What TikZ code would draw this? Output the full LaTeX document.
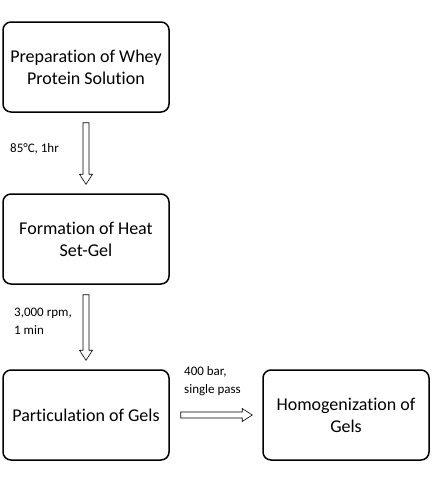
\documentclass[tikz,border=0pt]{standalone}
\usepackage{fontspec}
\setmainfont{Carlito}[Ligatures=CommonOff]
\usetikzlibrary{calc}
\begin{document}
\begin{tikzpicture}[x=1pt,y=-1pt,
  stage/.style={draw,line width=1.5pt,rounded corners=8pt,minimum width=166pt,minimum height=90pt,
    align=center,inner sep=2pt,font=\fontsize{18}{22}\selectfont},
  note/.style={anchor=west,align=left,inner sep=0pt,font=\fontsize{13}{18}\selectfont},
  hollow/.style={draw,line width=0.6pt,to path={
    let \p1=(\tikztostart), \p2=(\tikztotarget),
        \n1={atan2(\y2-\y1,\x2-\x1)}, \n2={veclen(\x2-\x1,\y2-\y1)} in
    {[shift={(\p1)},rotate=\n1]
      (0pt,3pt) -- (\n2-10pt,3pt) -- (\n2-10pt,6.5pt) -- (\n2,0pt)
      -- (\n2-10pt,-6.5pt) -- (\n2-10pt,-3pt) -- (0pt,-3pt) -- cycle}}}]
\useasboundingbox (0,0) rectangle (434,480);
% process steps
\node[stage] (prep) at (86,67) {Preparation of Whey\\Protein Solution};
\node[stage] (form) at (86,239) {Formation of Heat\\Set-Gel};
\node[stage] (part) at (86,415) {Particulation of Gels};
\node[stage] (homo) at (346,415) {Homogenization of\\Gels};
% hollow arrows
\draw[hollow] ([yshift=-10pt]prep.south) to ([yshift=9pt]form.north);
\draw[hollow] ([yshift=-10pt]form.south) to ([yshift=9pt]part.north);
\draw[hollow] ([xshift=11pt]part.east) to ([xshift=-10pt]homo.west);
% conditions
\node[note] (heat) at (10,149) {85°C, 1hr};
\node[note] (spin) at (14,321) {3,000 rpm,\\1 min};
\node[note] (press) at (184,381) {400 bar,\\single pass};
\end{tikzpicture}
\end{document}
